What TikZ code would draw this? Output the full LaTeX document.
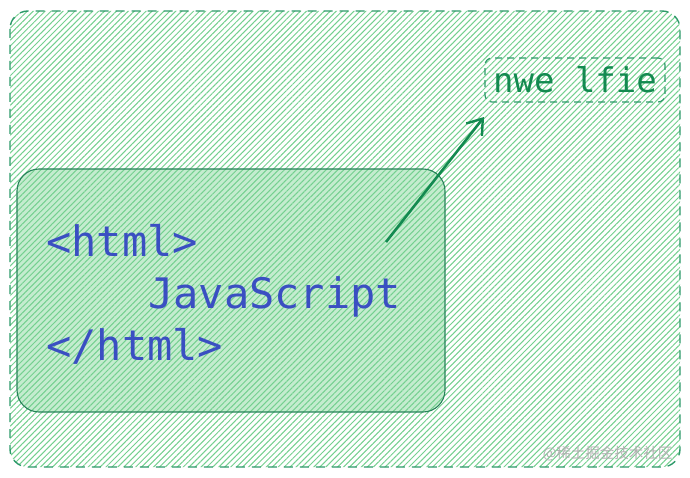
\documentclass[tikz,border=0pt]{standalone}
\usepackage{fontspec}
\usetikzlibrary{patterns.meta,arrows.meta}
\newfontfamily\codefont{DejaVu Sans Mono}
\newfontfamily\cjkfont{Noto Sans CJK SC}
\definecolor{hatchgreen}{HTML}{74D08F}
\definecolor{edgegreen}{HTML}{2E9A6A}
\definecolor{innerfill}{HTML}{C4ECCF}
\definecolor{codeblue}{HTML}{3A4FC2}
\definecolor{labelgreen}{HTML}{138A50}
\tikzset{
  hatch/.style={pattern={Lines[angle=45,distance=4.2pt,line width=1pt]},pattern color=hatchgreen},
  outerbox/.style={draw=edgegreen,line width=1.4pt,dash pattern=on 9pt off 7pt,rounded corners=18pt,hatch},
  innerbox/.style={draw=edgegreen!85!black,line width=1.1pt,rounded corners=22pt},
  codetext/.style={font=\codefont\fontsize{42}{42}\selectfont,text=codeblue,anchor=base west,inner sep=0pt},
  labelbox/.style={draw=edgegreen,line width=1.2pt,dash pattern=on 7pt off 5pt,rounded corners=7pt,
    font=\codefont\fontsize{34}{34}\selectfont,text=labelgreen,minimum width=180pt,minimum height=44pt,inner sep=0pt},
  linkarrow/.style={draw=labelgreen,line width=2.6pt,-{Straight Barb[length=14pt,width=20pt,line width=2.4pt]}},
}
\begin{document}
\begin{tikzpicture}[x=1pt,y=-1pt]
\useasboundingbox (0,0) rectangle (690,478);
\fill[white] (0,0) rectangle (690,478);
\path[outerbox] (10,11) rectangle (680,467);
\fill[innerfill,rounded corners=22pt] (17,169) rectangle (445,412);
\path[hatch,rounded corners=22pt] (17,169) rectangle (445,412);
\draw[innerbox] (17,169) rectangle (445,412);
\node (inner) at (231,290.5) [minimum width=428pt,minimum height=243pt] {};
\node[codetext] (open) at (46,256) {<html>};
\node[codetext] (js) at (148,308) {JavaScript};
\node[codetext] (close) at (46,360) {</html>};
\node[labelbox] (label) at (575,80) {nwe lfie};
\coordinate (from) at (386,242);
\coordinate (to) at (484,117);
\draw[linkarrow] (from) -- (to);
\node[font=\cjkfont\fontsize{14.5}{14.5}\selectfont,text=gray!60,anchor=east] (wm) at (676,454) {@稀土掘金技术社区};
\end{tikzpicture}
\end{document}
